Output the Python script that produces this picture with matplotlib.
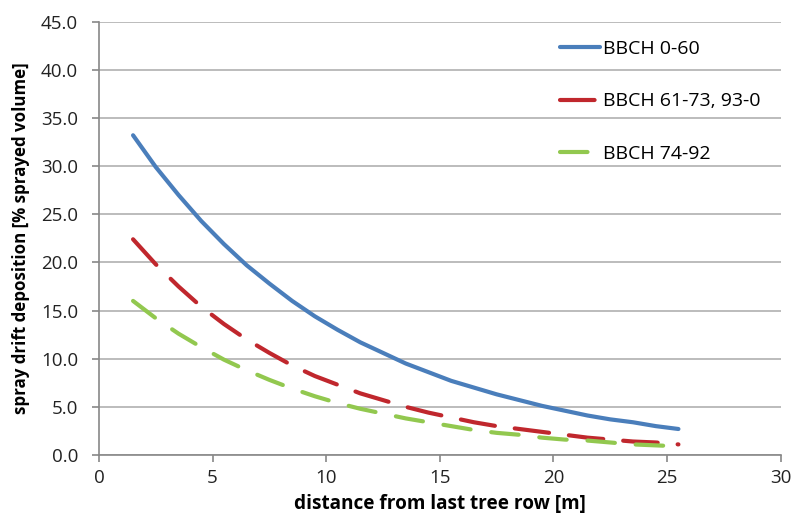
import matplotlib
matplotlib.use("Agg")
import matplotlib.pyplot as plt

# distance from last tree row [m]
distance = [1.5, 2.5, 3.5, 4.5, 5.5, 6.5, 7.5, 8.5, 9.5, 10.5, 11.5, 12.5, 13.5,
            14.5, 15.5, 16.5, 17.5, 18.5, 19.5, 20.5, 21.5, 22.5, 23.5, 24.5, 25.5]

# spray drift deposition [% sprayed volume]
bbch_0_60 = [33.2, 29.9, 27.0, 24.3, 21.9, 19.7, 17.8, 16.0, 14.4, 13.0, 11.7, 10.6, 9.5,
             8.6, 7.7, 7.0, 6.3, 5.7, 5.1, 4.6, 4.1, 3.7, 3.4, 3.0, 2.7]
bbch_61_73 = [22.4, 19.8, 17.5, 15.4, 13.6, 12.0, 10.6, 9.3, 8.2, 7.3, 6.4, 5.7, 5.0,
              4.4, 3.9, 3.4, 3.0, 2.7, 2.4, 2.1, 1.8, 1.6, 1.4, 1.3, 1.1]
bbch_74_92 = [16.0, 14.2, 12.6, 11.2, 9.9, 8.8, 7.8, 6.9, 6.1, 5.4, 4.8, 4.3, 3.8,
              3.4, 3.0, 2.6, 2.3, 2.1, 1.8, 1.6, 1.5, 1.3, 1.1, 1.0, 0.9]

labels = ["BBCH 0-60", "BBCH 61-73, 93-0", "BBCH 74-92"]
colors = ["#4a7ebb", "#c0272d", "#92c84f"]

x_ticks = [0, 5, 10, 15, 20, 25, 30]
y_ticks = [0, 5, 10, 15, 20, 25, 30, 35, 40, 45]

plt.rcParams['font.family'] = ['Open Sans', 'DejaVu Sans']

fig = plt.figure(figsize=(7.95, 5.15), dpi=100)
ax = fig.add_axes([0.1245, 0.1165, 0.8575, 0.8415])

ax.plot(distance, bbch_0_60, color=colors[0], lw=3, label=labels[0],
        solid_capstyle='round')
ax.plot(distance, bbch_61_73, color=colors[1], lw=3, label=labels[1],
        dashes=(8.3, 4.8), dash_capstyle='round')
ax.plot(distance, bbch_74_92, color=colors[2], lw=3, label=labels[2],
        dashes=(6.6, 5.0), dash_capstyle='round')

ax.set_xlim(0, 30)
ax.set_ylim(0, 45)
ax.set_xticks(x_ticks)
ax.set_yticks(y_ticks)
ax.set_yticklabels(["%.1f" % v for v in y_ticks])

ax.grid(axis='y', color='#b0b0b0', lw=1.2)
ax.set_axisbelow(True)
for side in ['top', 'right']:
    ax.spines[side].set_visible(False)
for side in ['left', 'bottom']:
    ax.spines[side].set_color('#888888')
    ax.spines[side].set_linewidth(1.2)
ax.tick_params(colors='#888888', labelcolor='#222222', labelsize=13.5,
               length=5, width=1.2)
ax.tick_params(axis='x', pad=5)
ax.tick_params(axis='y', pad=10)

ax.set_xlabel("distance from last tree row [m]", fontsize=13.7, fontweight='bold',
              labelpad=5)
ax.set_ylabel("spray drift deposition [% sprayed volume]", fontsize=12.2,
              fontweight='bold', labelpad=8)

ax.legend(loc='upper left', bbox_to_anchor=(0.676, 0.958), frameon=False,
          fontsize=14, handlelength=2.06, handletextpad=0.15, labelspacing=1.78,
          borderpad=0, borderaxespad=0)

fig.savefig("out.png", dpi=100)
